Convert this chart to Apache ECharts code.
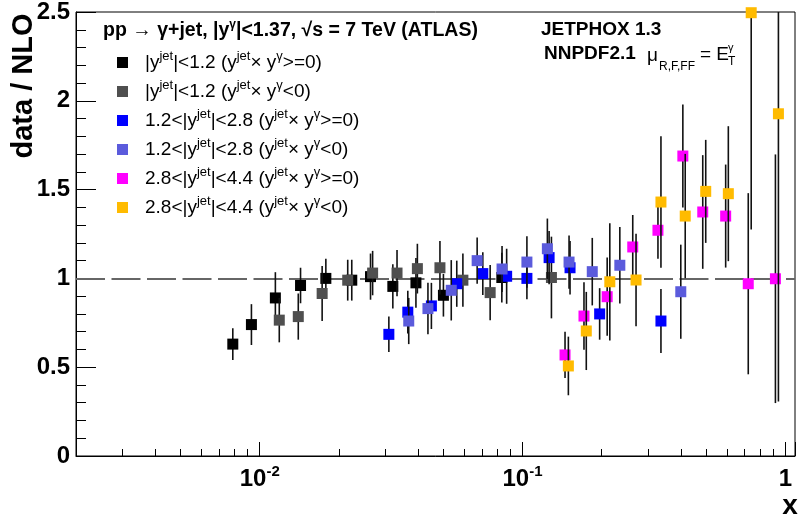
<!DOCTYPE html>
<html><head><meta charset="utf-8">
<script src="https://cdn.jsdelivr.net/npm/echarts@6/dist/echarts.min.js"></script>
<style>html,body{margin:0;padding:0;background:#fff}#c{width:798px;height:519px}</style>
</head><body><div id="c"></div>
<script>
// ---- data ----
const seriesNames = [
  '|yjet|<1.2 (yjet× yγ>=0)',
  '|yjet|<1.2 (yjet× yγ<0)',
  '1.2<|yjet|<2.8 (yjet× yγ>=0)',
  '1.2<|yjet|<2.8 (yjet× yγ<0)',
  '2.8<|yjet|<4.4 (yjet× yγ>=0)',
  '2.8<|yjet|<4.4 (yjet× yγ<0)'
];
const xBlack = [0.0079, 0.0093, 0.01147, 0.0143, 0.01785, 0.0224, 0.0264, 0.0321, 0.0393, 0.0500, 0.0834];
const yBlack = [0.63, 0.74, 0.89, 0.96, 1.00, 0.99, 1.01, 0.955, 0.975, 0.905, 1.005];
const eBlack = [0.09, 0.115, 0.145, 0.10, 0.11, 0.115, 0.13, 0.125, 0.14, 0.12, 0.14];

const xGray = [0.01187, 0.01402, 0.01728, 0.02162, 0.02689, 0.0333, 0.0398, 0.0485, 0.0593, 0.0753, 0.1288];
const yGray = [0.765, 0.785, 0.915, 0.99, 1.03, 1.03, 1.055, 1.06, 0.99, 0.92, 1.005];
const eGray = [0.125, 0.13, 0.155, 0.115, 0.125, 0.13, 0.14, 0.15, 0.15, 0.155, 0.23];

const xBlue = [0.0310, 0.0366, 0.0450, 0.0562, 0.0706, 0.0870, 0.1039, 0.1262, 0.1516, 0.1965, 0.3362];
const yBlue = [0.685, 0.81, 0.845, 0.97, 1.027, 1.012, 1.0, 1.117, 1.06, 0.80, 0.76];
const eBlue = [0.10, 0.12, 0.13, 0.13, 0.12, 0.155, 0.117, 0.15, 0.15, 0.145, 0.18];

const xSlate = [0.0369, 0.04366, 0.05355, 0.06719, 0.08356, 0.1039, 0.1243, 0.1503, 0.1842, 0.2345, 0.40];
const ySlate = [0.76, 0.83, 0.933, 1.10, 1.053, 1.092, 1.167, 1.092, 1.038, 1.074, 0.925];
const eSlate = [0.13, 0.145, 0.17, 0.13, 0.13, 0.145, 0.17, 0.15, 0.19, 0.215, 0.265];

const xMagenta = [0.1451, 0.1713, 0.2099, 0.2626, 0.3275, 0.4073, 0.4849, 0.5927, 0.7224, 0.9165];
const yMagenta = [0.569, 0.788, 0.897, 1.177, 1.271, 1.689, 1.374, 1.351, 0.970, 0.998];
const eMagenta = [0.13, 0.19, 0.22, 0.18, 0.16, 0.29, 0.32, 0.29, 0.51, 0.70];

const xOrange = [0.1494, 0.1748, 0.2148, 0.2703, 0.3362, 0.4159, 0.4977, 0.6067, 0.7413, 0.9409];
const yOrange = [0.507, 0.704, 0.981, 0.991, 1.430, 1.351, 1.490, 1.477, 2.496, 1.927];
const eOrange = [0.165, 0.22, 0.33, 0.26, 0.37, 0.35, 0.29, 0.38, 1.22, 1.62];

const xMajorTicks = [0.01, 0.1, 1];
const xMinorTicks = [0.003,0.004,0.005,0.006,0.007,0.008,0.009,
                     0.02,0.03,0.04,0.05,0.06,0.07,0.08,0.09,
                     0.2,0.3,0.4,0.5,0.6,0.7,0.8,0.9];
const referenceLine = 1;
const X_MIN = 0.002, X_MAX = 1.088;

// ---- chart ----
const FONT = 'Liberation Sans, Arial, Helvetica, sans-serif';
const groups = [
  {x: xBlack, y: yBlack, e: eBlack, color: '#000000'},
  {x: xGray, y: yGray, e: eGray, color: '#4f4f4f'},
  {x: xBlue, y: yBlue, e: eBlue, color: '#0000ff'},
  {x: xSlate, y: ySlate, e: eSlate, color: '#5b5bdc'},
  {x: xMagenta, y: yMagenta, e: eMagenta, color: '#ff00ff'},
  {x: xOrange, y: yOrange, e: eOrange, color: '#ffbb00'}
];

function richName(name) {
  const m = name.match(/^(.*?)\|yjet\|(.*?)\(yjet× yγ(.*)\)$/);
  return '{g|}{m|' + m[1] + '|y}{s|jet}{m||' + m[2] + '(y}{s|jet}{m|× y}{s|γ}{m|' + m[3] + ')}';
}

const series = [];
groups.forEach((g, i) => {
  const d = g.x.map((x, j) => [x, g.y[j], g.e[j]]);
  const errSeries = {
    type: 'custom',
    clip: true,
    silent: true,
    z: 2 + 2 * i,
    encode: {x: 0, y: 1},
    data: d,
    renderItem: function (params, api) {
      const x = api.value(0), y = api.value(1), e = api.value(2);
      const p1 = api.coord([x, y + e]);
      const p2 = api.coord([x, y - e]);
      return {
        type: 'line',
        shape: {x1: p1[0], y1: p1[1], x2: p2[0], y2: p2[1]},
        style: {stroke: '#111', lineWidth: 1.6}
      };
    }
  };
  if (i === 0) {
    errSeries.markLine = {
      silent: true, symbol: 'none', z: 1,
      label: {show: false},
      lineStyle: {color: '#666', width: 2, type: [29, 6.5]},
      data: [{yAxis: referenceLine}]
    };
  }
  series.push(errSeries);
  series.push({
    type: 'scatter',
    name: seriesNames[i],
    symbol: 'rect',
    symbolSize: 11,
    z: 3 + 2 * i,
    itemStyle: {color: g.color, opacity: 1},
    data: d.map(p => [p[0], p[1]])
  });
});

function xLabel(v) {
  const l = Math.log10(v);
  const r = Math.round(l);
  if (Math.abs(l - r) > 1e-6) return '';
  if (r === 0) return '{b|1}';
  return '{b|10}{s|' + r + '}';
}

const chart = echarts.init(document.getElementById('c'), null, {renderer: 'canvas'});
chart.setOption({
  animation: false,
  backgroundColor: '#fff',
  grid: {left: 76, right: 1, top: 11, bottom: 63, show: true, borderColor: '#000', borderWidth: 1, backgroundColor: 'transparent'},
  xAxis: [
    {
      type: 'log', logBase: 10, min: X_MIN, max: X_MAX, position: 'bottom',
      axisLine: {show: true, onZero: false, lineStyle: {color: '#000', width: 1}},
      axisTick: {show: true, inside: true, length: 14, lineStyle: {color: '#000'}},
      axisLabel: {show: true, margin: 8, formatter: xLabel, color: '#000',
        showMinLabel: true, showMaxLabel: true,
        rich: {
          b: {fontSize: 24, fontWeight: 'bold', fontFamily: FONT, lineHeight: 30, color: '#000'},
          s: {fontSize: 15, fontWeight: 'bold', fontFamily: FONT, lineHeight: 15, verticalAlign: 'top', color: '#000'}
        }},
      splitLine: {show: false}
    },
    {
      // helper axis (log10 space) carrying only the minor ticks 2..9 of each decade
      type: 'value', min: Math.log10(X_MIN), max: Math.log10(X_MAX), position: 'bottom',
      axisLine: {show: false},
      axisTick: {show: true, inside: true, length: 7, customValues: xMinorTicks.map(v => Math.log10(v)), lineStyle: {color: '#000'}},
      axisLabel: {show: false},
      splitLine: {show: false}
    }
  ],
  yAxis: {
    type: 'value', min: 0, max: 2.5, interval: 0.5,
    axisLine: {show: true, onZero: false, lineStyle: {color: '#000', width: 1}},
    axisTick: {show: true, inside: true, length: 20, lineStyle: {color: '#000'}},
    minorTick: {show: true, splitNumber: 5, length: 10, lineStyle: {color: '#000'}},
    axisLabel: {margin: 6, color: '#000', fontSize: 24, fontWeight: 'bold', fontFamily: FONT},
    splitLine: {show: false}
  },
  legend: {
    orient: 'vertical', left: 112, top: 45,
    itemWidth: 11, itemHeight: 11, itemGap: 7, icon: 'rect',
    data: seriesNames,
    formatter: richName,
    selectedMode: false,
    textStyle: {
      color: '#000', fontFamily: FONT, fontSize: 19,
      rich: {
        g: {width: 12},
        m: {fontSize: 19, fontFamily: FONT, lineHeight: 25, color: '#000'},
        s: {fontSize: 13, fontFamily: FONT, lineHeight: 13, verticalAlign: 'top', color: '#000'}
      }
    }
  },
  graphic: [
    {type: 'text', x: 24, y: 86, rotation: Math.PI / 2,
      style: {text: 'data / NLO', fontSize: 29, fontWeight: 'bold', fontFamily: FONT, fill: '#000', align: 'center', verticalAlign: 'middle'}},
    {type: 'text', x: 790, y: 506,
      style: {text: 'x', fontSize: 28, fontWeight: 'bold', fontFamily: FONT, fill: '#000', align: 'center', verticalAlign: 'middle'}},
    {type: 'text', x: 103, y: 31,
      style: {text: '{m|pp → γ+jet, |y}{s|γ}{m||<1.37, √s = 7 TeV (ATLAS)}', fill: '#000', verticalAlign: 'middle',
        rich: {
          m: {fontSize: 19.5, fontWeight: 'bold', fontFamily: FONT, lineHeight: 25},
          s: {fontSize: 12, fontWeight: 'bold', fontFamily: FONT, lineHeight: 12, verticalAlign: 'top'}
        }}},
    {type: 'text', x: 541, y: 30,
      style: {text: 'JETPHOX 1.3', fontSize: 19, fontWeight: 'bold', fontFamily: FONT, fill: '#000', verticalAlign: 'middle'}},
    {type: 'text', x: 544, y: 54,
      style: {text: 'NNPDF2.1', fontSize: 19, fontWeight: 'bold', fontFamily: FONT, fill: '#000', verticalAlign: 'middle'}},
    {type: 'text', x: 647, y: 56,
      style: {text: 'μ', fontSize: 19, fontFamily: FONT, fill: '#000', verticalAlign: 'middle'}},
    {type: 'text', x: 659, y: 67,
      style: {text: 'R,F,FF', fontSize: 12, fontFamily: FONT, fill: '#000', verticalAlign: 'middle'}},
    {type: 'text', x: 700, y: 55,
      style: {text: '= E', fontSize: 19, fontFamily: FONT, fill: '#000', verticalAlign: 'middle'}},
    {type: 'text', x: 728, y: 48,
      style: {text: 'γ', fontSize: 11, fontFamily: FONT, fill: '#000', verticalAlign: 'middle'}},
    {type: 'text', x: 728, y: 62,
      style: {text: 'T', fontSize: 12, fontFamily: FONT, fill: '#000', verticalAlign: 'middle'}}
  ],
  series: series
});
</script>
</body></html>
